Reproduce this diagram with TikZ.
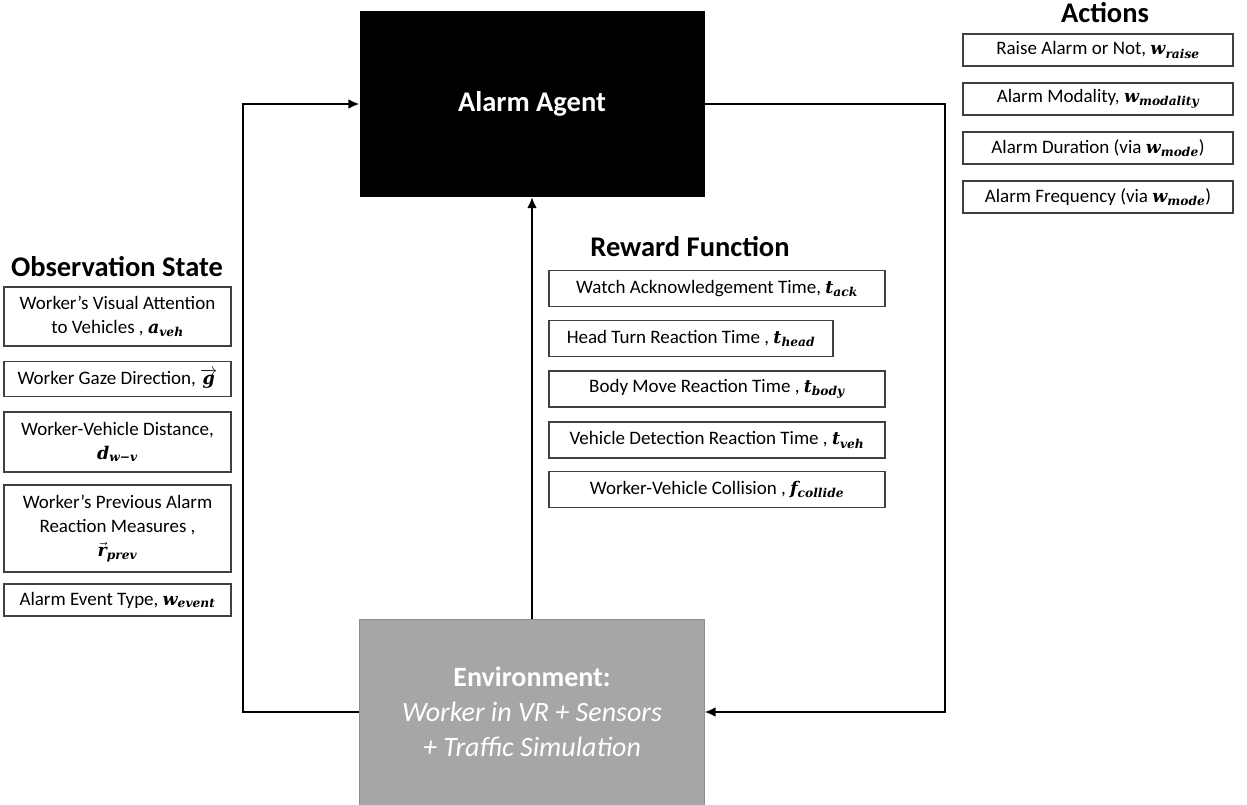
\documentclass[tikz,border=0pt]{standalone}
\usepackage{fontspec}
\setmainfont{Carlito}
\newfontfamily\varfont[Scale=0.92]{DejaVu Serif}
\usepackage{amsmath, amssymb}
\usetikzlibrary{arrows.meta}
\definecolor{envgray}{RGB}{166,166,166}
\definecolor{boxline}{RGB}{64,64,64}
% bold italic variable with subscript, and with arrows
\newcommand{\mvar}[2]{{\varfont\bfseries\itshape #1\textsubscript{#2}}}
\newcommand{\mlongvec}[1]{$\overrightarrow{\hbox{\varfont\bfseries\itshape #1}}$}
\newcommand{\mvecsub}[2]{$\vec{\hbox{\varfont\bfseries\itshape #1}}$\textsubscript{\varfont\bfseries\itshape #2}}

\begin{document}
\begin{tikzpicture}[x=1pt, y=-1pt,
    itembox/.style={draw=boxline, line width=1.2pt, align=center, inner sep=2pt,
        font=\fontsize{19}{24}\selectfont},
    obsbox/.style={itembox, minimum width=227pt},
    rewbox/.style={itembox, minimum width=336pt, minimum height=36pt},
    actbox/.style={itembox, minimum width=270pt, minimum height=32pt},
    heading/.style={font=\fontsize{28.5}{34}\selectfont\bfseries},
    flow/.style={line width=2pt, -{Latex[length=11pt,width=10pt]}}]
    \useasboundingbox (0,0) rectangle (1247,805);

    % agent and environment
    \node[fill=black, minimum width=345pt, minimum height=186pt, text=white, heading] (agent) at (532,104) {Alarm Agent};
    \node[fill=envgray, draw=envgray!85!black, minimum width=345pt, minimum height=186pt, text=white, align=center,
        font=\fontsize{28}{35}\selectfont] (env) at (532,712)
        {\textbf{Environment:}\\\textit{Worker in VR + Sensors}\\\textit{+ Traffic Simulation}};

    % loop
    \coordinate (lturn) at (243,104);
    \coordinate (rturn) at (945,712);
    \draw[flow] (env.west) -| (lturn) -- (agent.west);
    \draw[flow] (agent.east) -| (rturn) -- (env.east);
    \draw[flow] (env.north) -- (agent.south);

    % observation state
    \node[heading] (obstitle) at (117,267) {Observation State};
    \node[obsbox, minimum height=59pt] (obs1) at (117.5,316.5) {Worker’s Visual Attention\\to Vehicles , \mvar{a}{veh}};
    \node[obsbox, minimum height=35pt] (obs2) at (117.5,379) {Worker Gaze Direction, \mlongvec{g}};
    \node[obsbox, minimum height=60pt] (obs3) at (117.5,442) {Worker-Vehicle Distance,\\\mvar{d}{w−v}};
    \node[obsbox, minimum height=87pt] (obs4) at (117.5,528.5) {Worker’s Previous Alarm\\Reaction Measures ,\\\mvecsub{r}{prev}};
    \node[obsbox, minimum height=32pt] (obs5) at (117.5,600) {Alarm Event Type, \mvar{w}{event}};

    % reward function
    \node[heading] (rewtitle) at (690,247) {Reward Function};
    \node[rewbox] (rew1) at (717,288.5) {Watch Acknowledgement Time, \mvar{t}{ack}};
    \node[rewbox, minimum width=284pt] (rew2) at (691,338.5) {Head Turn Reaction Time , \mvar{t}{head}};
    \node[rewbox] (rew3) at (717,389) {Body Move Reaction Time , \mvar{t}{body}};
    \node[rewbox] (rew4) at (717,440) {Vehicle Detection Reaction Time , \mvar{t}{veh}};
    \node[rewbox] (rew5) at (717,489.5) {Worker-Vehicle Collision , \mvar{f}{collide}};

    % actions
    \node[heading] (acttitle) at (1105,13) {Actions};
    \node[actbox] (act1) at (1098,50) {Raise Alarm or Not, \mvar{w}{raise}};
    \node[actbox] (act2) at (1098,99) {Alarm Modality, \mvar{w}{modality}};
    \node[actbox] (act3) at (1098,148) {Alarm Duration (via \mvar{w}{mode})};
    \node[actbox] (act4) at (1098,197) {Alarm Frequency (via \mvar{w}{mode})};
\end{tikzpicture}
\end{document}
